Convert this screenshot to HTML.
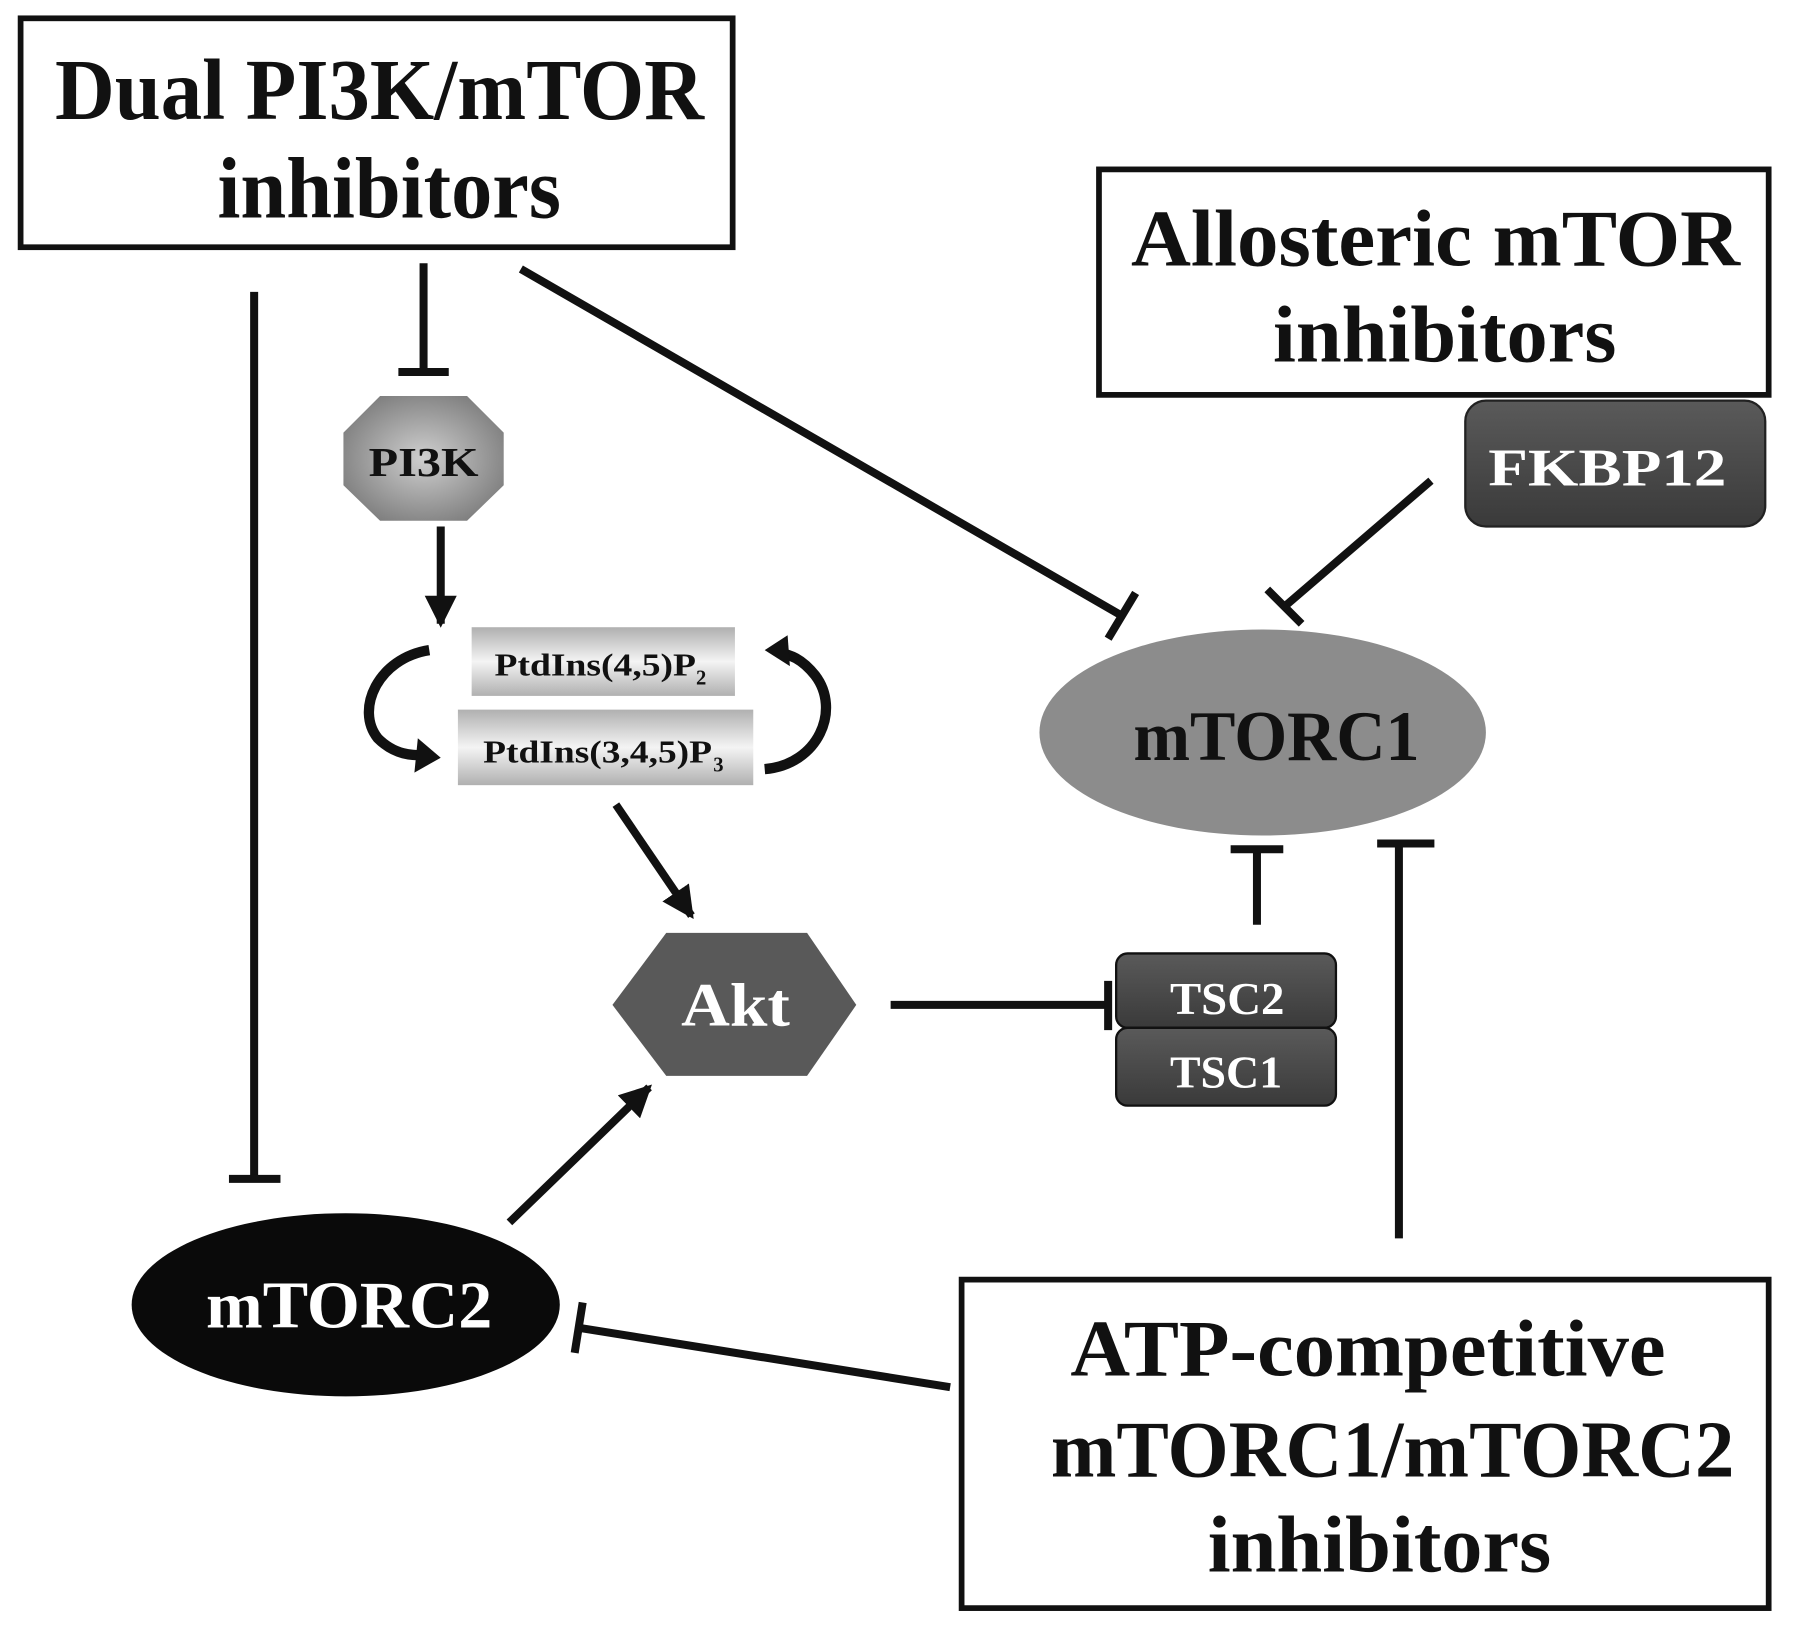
<!DOCTYPE html>
<html><head><meta charset="utf-8"><style>
html,body{margin:0;padding:0;background:#fff;}
svg{display:block;}
text{font-family:"Liberation Serif",serif;font-weight:bold;}
</style></head><body>
<svg width="1795" height="1631" viewBox="0 0 1568 1425" preserveAspectRatio="none" xmlns="http://www.w3.org/2000/svg">
<defs>
<radialGradient id="pg" cx="50%" cy="50%" r="60%"><stop offset="0" stop-color="#cfcfcf"/><stop offset="1" stop-color="#7a7a7a"/></radialGradient>
<linearGradient id="bar" x1="0" y1="0" x2="0" y2="1"><stop offset="0" stop-color="#b0b0b0"/><stop offset="0.5" stop-color="#f4f4f4"/><stop offset="1" stop-color="#b0b0b0"/></linearGradient>
<linearGradient id="dk" x1="0" y1="0" x2="0" y2="1"><stop offset="0" stop-color="#5a5a5a"/><stop offset="1" stop-color="#3a3a3a"/></linearGradient>
<marker id="ah" markerWidth="4" markerHeight="4" refX="3.5" refY="2" orient="auto" markerUnits="strokeWidth"><path d="M0,0 L4,2 L0,4 z" fill="#111"/></marker>
</defs>
<g fill="none" stroke="#111" stroke-width="5">
<rect x="18" y="16" width="622" height="200"/>
<rect x="960" y="148" width="585" height="197"/>
<rect x="840" y="1118" width="705" height="287"/>
</g>
<g fill="#111" lengthAdjust="spacingAndGlyphs">
<text x="48" y="104" font-size="76" textLength="567" lengthAdjust="spacingAndGlyphs">Dual PI3K/mTOR</text>
<text x="190" y="190" font-size="76" textLength="300" lengthAdjust="spacingAndGlyphs">inhibitors</text>
<text x="988" y="232" font-size="70" textLength="532" lengthAdjust="spacingAndGlyphs">Allosteric mTOR</text>
<text x="1112" y="316" font-size="70" textLength="300" lengthAdjust="spacingAndGlyphs">inhibitors</text>
<text x="935" y="1202" font-size="70" textLength="520" lengthAdjust="spacingAndGlyphs">ATP-competitive</text>
<text x="918" y="1290" font-size="70" textLength="597" lengthAdjust="spacingAndGlyphs">mTORC1/mTORC2</text>
<text x="1055" y="1373" font-size="70" textLength="300" lengthAdjust="spacingAndGlyphs">inhibitors</text>
</g>
<!-- FKBP12 -->
<rect x="1280" y="350" width="262" height="110" rx="18" fill="url(#dk)" stroke="#222" stroke-width="2"/>
<text x="1300" y="424" font-size="46" fill="#fff" textLength="208" lengthAdjust="spacingAndGlyphs">FKBP12</text>
<!-- PI3K -->
<polygon points="332,346 408,346 440,378 440,424 408,455 332,455 300,424 300,378" fill="url(#pg)"/>
<text x="322" y="416" font-size="36" fill="#111" textLength="96" lengthAdjust="spacingAndGlyphs">PI3K</text>
<!-- PtdIns bars -->
<rect x="412" y="548" width="230" height="60" fill="url(#bar)"/>
<text x="432" y="590" font-size="28" fill="#111" textLength="176" lengthAdjust="spacingAndGlyphs">PtdIns(4,5)P</text>
<text x="608" y="598" font-size="18" fill="#111">2</text>
<rect x="400" y="620" width="258" height="66" fill="url(#bar)"/>
<text x="422" y="666" font-size="28" fill="#111" textLength="200" lengthAdjust="spacingAndGlyphs">PtdIns(3,4,5)P</text>
<text x="623" y="674" font-size="18" fill="#111">3</text>
<!-- curved arrows -->
<path d="M375,568 C330,575 310,620 330,645 C345,660 360,660 372,660" fill="none" stroke="#111" stroke-width="9"/>
<polygon points="365,645 385,662 362,675" fill="#111"/>
<path d="M668,672 C715,668 735,620 712,590 C700,575 690,572 680,570" fill="none" stroke="#111" stroke-width="9"/>
<polygon points="688,555 668,568 690,582" fill="#111"/>
<!-- mTORC1 -->
<ellipse cx="1103" cy="640" rx="195" ry="90" fill="#8c8c8c"/>
<text x="990" y="664" font-size="62" fill="#111" textLength="250" lengthAdjust="spacingAndGlyphs">mTORC1</text>
<!-- TSC -->
<rect x="975" y="833" width="192" height="65" rx="10" fill="url(#dk)" stroke="#111" stroke-width="2"/>
<text x="1022" y="886" font-size="40" fill="#fff" textLength="100" lengthAdjust="spacingAndGlyphs">TSC2</text>
<rect x="975" y="898" width="192" height="68" rx="10" fill="url(#dk)" stroke="#111" stroke-width="2"/>
<text x="1022" y="950" font-size="40" fill="#fff" textLength="98" lengthAdjust="spacingAndGlyphs">TSC1</text>
<!-- Akt -->
<polygon points="535,878 582,815 705,815 748,878 705,940 582,940" fill="#595959"/>
<text x="595" y="896" font-size="54" fill="#fff" textLength="95" lengthAdjust="spacingAndGlyphs">Akt</text>
<!-- mTORC2 -->
<ellipse cx="302" cy="1140" rx="187" ry="80" fill="#0a0a0a"/>
<text x="180" y="1160" font-size="58" fill="#fff" textLength="250" lengthAdjust="spacingAndGlyphs">mTORC2</text>
<!-- connectors -->
<g stroke="#111" stroke-width="7" fill="none">
<line x1="370" y1="230" x2="370" y2="325"/>
<line x1="348" y1="325" x2="392" y2="325"/>
<line x1="385" y1="460" x2="385" y2="545" marker-end="url(#ah)"/>
<line x1="455" y1="235" x2="980" y2="538"/>
<line x1="968" y1="558" x2="992" y2="518"/>
<line x1="1250" y1="420" x2="1122" y2="530"/>
<line x1="1107" y1="515" x2="1137" y2="545"/>
<line x1="1098" y1="808" x2="1098" y2="742"/>
<line x1="1075" y1="742" x2="1121" y2="742"/>
<line x1="1222" y1="1082" x2="1222" y2="737"/>
<line x1="1203" y1="737" x2="1253" y2="737"/>
<line x1="778" y1="878" x2="968" y2="878"/>
<line x1="968" y1="857" x2="968" y2="900"/>
<line x1="538" y1="703" x2="604" y2="800" marker-end="url(#ah)"/>
<line x1="445" y1="1068" x2="567" y2="950" marker-end="url(#ah)"/>
<line x1="222" y1="255" x2="222" y2="1030"/>
<line x1="200" y1="1030" x2="245" y2="1030"/>
<line x1="830" y1="1212" x2="505" y2="1160"/>
<line x1="509" y1="1138" x2="502" y2="1182"/>
</g>
</svg>
</body></html>
